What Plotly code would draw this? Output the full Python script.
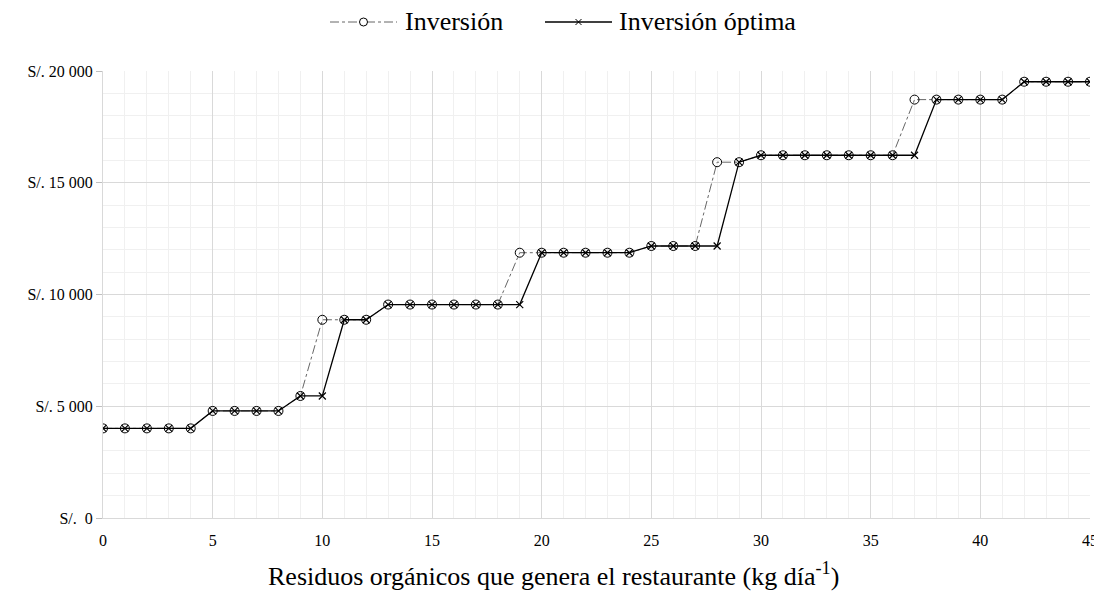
import plotly.graph_objects as go

x_vals = list(range(0, 46))
inversion = [4010, 4010, 4010, 4010, 4010,
             4790, 4790, 4790, 4790,
             5460, 8870, 8870, 8870,
             9550, 9550, 9550, 9550, 9550, 9550,
             11870, 11870, 11870, 11870, 11870, 11870,
             12170, 12170, 12170,
             15920, 15920,
             16230, 16230, 16230, 16230, 16230, 16230, 16230,
             18720, 18720, 18720, 18720, 18720,
             19520, 19520, 19520, 19520]
inversion_optima = [4010, 4010, 4010, 4010, 4010,
                    4790, 4790, 4790, 4790,
                    5460, 5460, 8870, 8870,
                    9550, 9550, 9550, 9550, 9550, 9550,
                    9550, 11870, 11870, 11870, 11870, 11870,
                    12170, 12170, 12170,
                    12170, 15920,
                    16230, 16230, 16230, 16230, 16230, 16230, 16230,
                    16230, 18720, 18720, 18720, 18720,
                    19520, 19520, 19520, 19520]
series_names = ["Inversión", "Inversión óptima"]
y_tickvals = [0, 5000, 10000, 15000, 20000]
y_ticktext = ["S/.\u00a0\u00a00", "S/. 5 000", "S/. 10 000", "S/. 15 000", "S/. 20 000"]
x_tickvals = [0, 5, 10, 15, 20, 25, 30, 35, 40, 45]
x_title = "Residuos orgánicos que genera el restaurante (kg día<sup>-1</sup>)"

FONT = "Liberation Serif, Times New Roman, serif"

W, H = 1094, 584
ML, MR, MT, MB = 95, 12, 63, 74
PW, PH = W - ML - MR, H - MT - MB

fig = go.Figure()
fig.add_trace(go.Scatter(
    x=x_vals, y=inversion, name=series_names[0], mode="lines+markers",
    line=dict(color="#666666", width=1, dash="dashdot"),
    marker=dict(symbol="circle-open", size=9, color="black", line=dict(width=1, color="black")),
    showlegend=False,
))
fig.add_trace(go.Scatter(
    x=x_vals, y=inversion_optima, name=series_names[1], mode="lines+markers",
    line=dict(color="black", width=1.3),
    marker=dict(symbol="x-thin", size=7, color="black", line=dict(width=1.2, color="black")),
    showlegend=False,
))

# custom legend / title placement (paper coordinates computed from screen pixels;
# the page body adds an 8 px offset)
def px_x(px):
    return (px - 8 - ML) / PW

def px_y(py):
    return (H - MB + 8 - py) / PH

ly = px_y(22)
shapes = []
shapes.append(dict(type="line", xref="paper", yref="paper", x0=px_x(330), x1=px_x(397), y0=ly, y1=ly,
                   line=dict(color="#666666", width=1, dash="dashdot")))
shapes.append(dict(type="circle", xref="paper", yref="paper", xsizemode="pixel", ysizemode="pixel",
                   xanchor=px_x(363.5), yanchor=ly, x0=-4, x1=4, y0=-4, y1=4,
                   fillcolor="white", line=dict(color="black", width=1)))
shapes.append(dict(type="line", xref="paper", yref="paper", x0=px_x(545), x1=px_x(612), y0=ly, y1=ly,
                   line=dict(color="black", width=1.3)))
for a, b in [(-3, 3), (3, -3)]:
    shapes.append(dict(type="line", xref="paper", yref="paper", xsizemode="pixel", ysizemode="pixel",
                       xanchor=px_x(578.5), yanchor=ly, x0=-3, x1=3, y0=a, y1=b,
                       line=dict(color="black", width=1)))
annotations = [
    dict(text=series_names[0], xref="paper", yref="paper", x=px_x(404), y=ly, xanchor="left",
         yanchor="middle", showarrow=False, borderpad=0,
         font=dict(size=26, family=FONT, color="black")),
    dict(text=series_names[1], xref="paper", yref="paper", x=px_x(618), y=ly, xanchor="left",
         yanchor="middle", showarrow=False, borderpad=0,
         font=dict(size=26, family=FONT, color="black")),
    dict(text=x_title, xref="paper", yref="paper", x=px_x(553.5), y=px_y(574), xanchor="center",
         yanchor="middle", showarrow=False, borderpad=0,
         font=dict(size=26, family=FONT, color="black")),
]

fig.update_layout(
    width=W, height=H,
    margin=dict(l=ML, r=MR, t=MT, b=MB, autoexpand=False),
    paper_bgcolor="white", plot_bgcolor="white",
    font=dict(family=FONT, size=16, color="black"),
    showlegend=False,
    shapes=shapes, annotations=annotations,
)
fig.update_xaxes(
    range=[0, 45], tickvals=x_tickvals, showgrid=True, gridcolor="#d9d9d9", gridwidth=1,
    minor=dict(dtick=1, showgrid=True, gridcolor="#f0f0f0", gridwidth=1),
    showline=True, linecolor="#d9d9d9", linewidth=1, zeroline=False,
    ticks="", tickfont=dict(size=16), ticklabelstandoff=8, automargin=False,
)
fig.update_yaxes(
    range=[0, 20000], tickvals=y_tickvals, ticktext=y_ticktext, showgrid=True,
    gridcolor="#d9d9d9", gridwidth=1,
    minor=dict(dtick=1000, showgrid=True, gridcolor="#f0f0f0", gridwidth=1),
    showline=True, linecolor="#d9d9d9", linewidth=1, zeroline=False,
    ticks="outside", ticklen=6, tickcolor="#bfbfbf", tickfont=dict(size=16), automargin=False,
)

fig.write_html("out.html")
